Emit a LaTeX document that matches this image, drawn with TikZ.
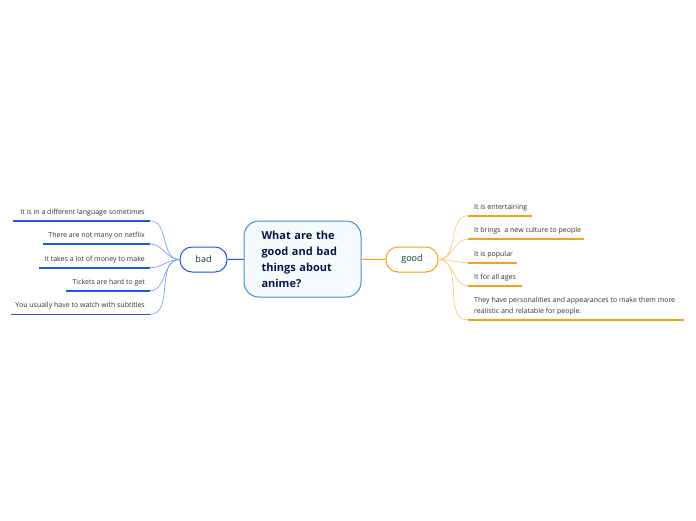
\documentclass[tikz,border=0pt]{standalone}
\usepackage{fontspec}
\setmainfont{Open Sans}
\usepackage{tikz}
\usetikzlibrary{positioning,calc}
\definecolor{cBad}{RGB}{30,84,235}
\definecolor{cBadL}{RGB}{120,160,250}
\definecolor{cGood}{RGB}{247,160,20}
\definecolor{cGoodL}{RGB}{250,200,120}
\definecolor{cRoot}{RGB}{60,145,215}
\definecolor{cRootFill}{RGB}{246,251,253}
\definecolor{cTopic}{RGB}{12,60,45}
\definecolor{cText}{RGB}{50,50,50}

\begin{document}
\begin{tikzpicture}[x=1pt,y=-1pt,
   root/.style={draw=cRoot,fill=cRootFill,line width=1pt,rounded corners=15pt,
     minimum width=117pt,minimum height=76pt,text width=82pt,align=left,
     text=cTopic!60!blue!60!black,font=\fontsize{11}{16}\selectfont\bfseries},
   topic/.style={draw,fill=white,line width=1pt,rounded corners=12pt,
     minimum height=25pt,text=cTopic,font=\fontsize{9}{11}\selectfont},
   leaf/.style={inner sep=0pt,text=cText,font=\fontsize{7}{11}\selectfont,align=left},
   uline/.style={line width=1.6pt},
   twig/.style={line width=0.7pt}]
 \useasboundingbox (0,0) rectangle (696,520);
 % central topic
 \node[root] (anime) at (302.5,259) {What are the good and bad things about anime?};
 \node[topic,draw=cBad,minimum width=47pt] (bad) at (203.5,259.5) {bad};
 \node[topic,draw=cGood,minimum width=52pt] (good) at (412,259.5) {good};
 \draw[cBad,line width=1pt] (anime) -- (bad);
 \draw[cGood,line width=1pt] (anime) -- (good);
 % bad branch
 \foreach \i/\y/\xl/\txt in {1/220.7/13/{It is in a different language sometimes},
     2/244/43/{There are not many on netflix},
     3/267.7/39/{It takes a lot of money to make},
     4/290.7/66/{Tickets are hard to get},
     5/314.3/11/{You usually have to watch with subtitles}} {
   \coordinate (bs\i) at (150,\y);
   \coordinate (be\i) at (\xl,\y);
   \node[leaf,anchor=south east] (b\i) at (145,\y-4.5) {\txt};
   \draw[cBad,uline] (bs\i) -- (be\i);
   \draw[cBadL,twig] (bad.west) to[out=180,in=0] (bs\i);
 }
 % good branch
 \foreach \i/\y/\xr/\txt in {1/215.7/532/{It is entertaining},
     2/239/584/{It brings\ \ a new culture to people},
     3/262.7/517/{It is popular},
     4/285.7/522/{It for all ages},
     5/320/684/{They have personalities and appearances to make them more\\realistic and relatable for people.}} {
   \coordinate (gs\i) at (468,\y);
   \coordinate (ge\i) at (\xr,\y);
   \node[leaf,anchor=south west] (g\i) at (474,\y-4.5) {\txt};
   \draw[cGood,uline] (gs\i) -- (ge\i);
   \draw[cGoodL,twig] (good.east) to[out=0,in=180] (gs\i);
 }
\end{tikzpicture}
\end{document}
